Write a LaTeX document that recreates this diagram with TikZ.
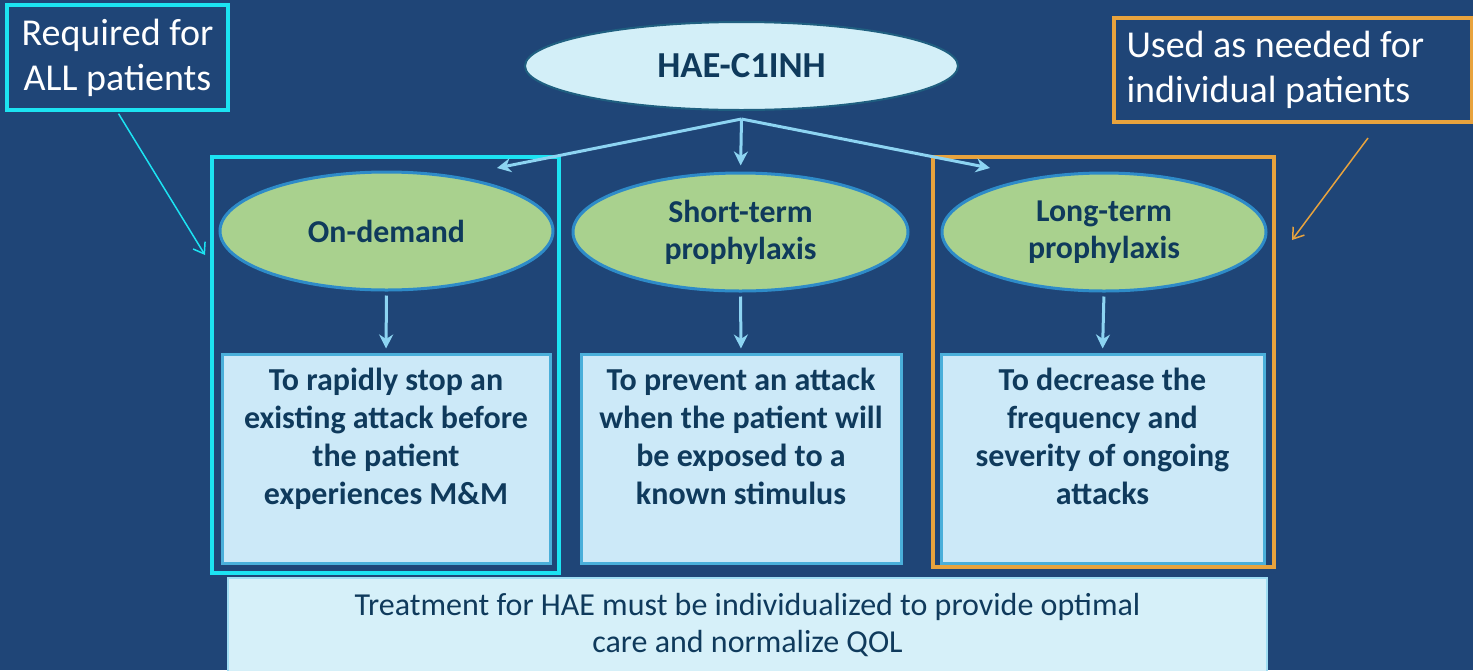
\documentclass[tikz,border=0pt]{standalone}
\usepackage{fontspec}
\setmainfont{Carlito}
\usetikzlibrary{arrows.meta,shapes.geometric,positioning}

\definecolor{bgblue}{HTML}{1F4577}
\definecolor{notecyan}{HTML}{1CE3F2}
\definecolor{noteorange}{HTML}{E8A33D}
\definecolor{arrowblue}{HTML}{8DD4F2}
\definecolor{haefill}{HTML}{D3EFF8}
\definecolor{haeline}{HTML}{1F5F80}
\definecolor{greenfill}{HTML}{A9D18E}
\definecolor{greenline}{HTML}{2E8BC8}
\definecolor{descfill}{HTML}{CCE9F8}
\definecolor{descline}{HTML}{4AAFDA}
\definecolor{bottomfill}{HTML}{D6F0F9}
\definecolor{bottomline}{HTML}{9FDDF3}
\definecolor{navytext}{HTML}{0F3A5C}

\newcommand{\desctext}[1]{\parbox[t][104.5pt][t]{160pt}{\centering\vspace*{7pt}#1}}

\begin{document}
\begin{tikzpicture}[x=0.5pt,y=-0.5pt]  % one unit = one pixel of the slide, y pointing down

    % Define some common styles
    \tikzset{
        notebox/.style={draw, line width=2pt, text=white, inner sep=0pt, font=\fontsize{19}{22.5}\selectfont},
        topnode/.style={ellipse, draw=haeline, line width=1pt, fill=haefill, text=navytext, inner sep=0pt,
            minimum width=216.5pt, minimum height=44pt, font=\fontsize{18.3}{22}\selectfont\bfseries},
        kind/.style={ellipse, draw=greenline, line width=1.5pt, fill=greenfill, text=navytext, align=center,
            inner sep=0pt, minimum height=59pt, font=\fontsize{15.9}{18.5}\selectfont\bfseries},
        descbox/.style={draw=descline, line width=1.5pt, fill=descfill, text=navytext, inner sep=0pt,
            font=\fontsize{16}{19}\selectfont\bfseries},
        groupbox/.style={draw, line width=2pt, inner sep=0pt},
        flow/.style={draw=arrowblue, line width=1.5pt, -{Stealth[length=7pt,width=7pt]}},
        pointer/.style={line width=0.75pt, -{Straight Barb[length=5pt,width=7pt]}}
    }

    % Slide background
    \fill[bgblue] (0,0) rectangle (1473,670);
    \useasboundingbox (0,0) rectangle (1473,670);

    % Notes in the corners
    \node[notebox, draw=notecyan, align=center, minimum width=110.5pt, minimum height=52.5pt]
        (reqnote) at (117.5,57.5) {Required for\\ALL patients};
    \node[notebox, draw=noteorange, align=flush left, text width=166pt, inner xsep=6.5pt, minimum height=52pt]
        (usednote) at (1292.5,70) {Used as needed for\\individual patients};

    % Top ellipse
    \node[topnode] (hae) at (741.5,66) {HAE-C1INH};

    % Frames grouping the columns
    \node[groupbox, draw=notecyan, minimum width=173.5pt, minimum height=208pt] (reqgroup) at (385.5,365) {};
    \node[groupbox, draw=noteorange, minimum width=170.5pt, minimum height=205pt] (usedgroup) at (1103.5,362) {};

    % Kinds of treatment
    \node[kind, minimum width=166.5pt] (ondemand) at (386.5,231) {On-demand};
    \node[kind, minimum width=167.5pt] (shortterm) at (740.5,232) {Short-term\\prophylaxis};
    \node[kind, minimum width=162pt] (longterm) at (1104,232) {Long-term\\prophylaxis};

    % Goals of each kind
    \node[descbox, minimum width=164pt, minimum height=104.5pt] (ondesc) at (386,458.5)
        {\desctext{To rapidly stop an\\existing attack before\\the patient\\experiences M\&M}};
    \node[descbox, minimum width=157pt, minimum height=104.5pt] (shortdesc) at (741,458.5)
        {\desctext{To prevent an attack\\when the patient will\\be exposed to a\\known stimulus}};
    \node[descbox, minimum width=161.5pt, minimum height=104.5pt] (longdesc) at (1102.5,458.5)
        {\desctext{To decrease the\\frequency and\\severity of ongoing\\attacks}};

    % Bottom message (runs off the slide)
    \node[draw=bottomline, line width=1pt, fill=bottomfill, text=navytext, align=center, inner sep=0pt,
        minimum width=519.5pt, minimum height=47pt, font=\fontsize{16}{18.5}\selectfont]
        (message) at (747.5,625) {Treatment for HAE must be individualized to provide optimal\\care and normalize QOL};

    % Arrows from the top ellipse
    \coordinate (hub) at ([yshift=-4pt]hae.south);
    \coordinate (lefttip) at (497,168);
    \coordinate (righttip) at (990,168);
    \draw[flow] (hub) -- (lefttip);
    \draw[flow, shorten >=3pt] (hub) -- (shortterm.north);
    \draw[flow] (hub) -- (righttip);

    % Arrows down to the goals
    \draw[flow, shorten <=2pt, shorten >=2pt] (ondemand.south) -- (ondesc.north);
    \draw[flow, shorten <=2pt, shorten >=2pt] (shortterm.south) -- (shortdesc.north);
    \draw[flow, shorten <=2pt, shorten >=2pt] (longterm.south) -- (longdesc.north);

    % Pointers from the notes
    \coordinate (reqtip) at (205,255);
    \coordinate (usedfrom) at ([xshift=37.75pt,yshift=-7pt]usednote.south);
    \coordinate (usedtip) at (1292,240);
    \draw[pointer, draw=notecyan, shorten <=1pt] (reqnote.south) -- (reqtip);
    \draw[pointer, draw=noteorange] (usedfrom) -- (usedtip);

\end{tikzpicture}
\end{document}
